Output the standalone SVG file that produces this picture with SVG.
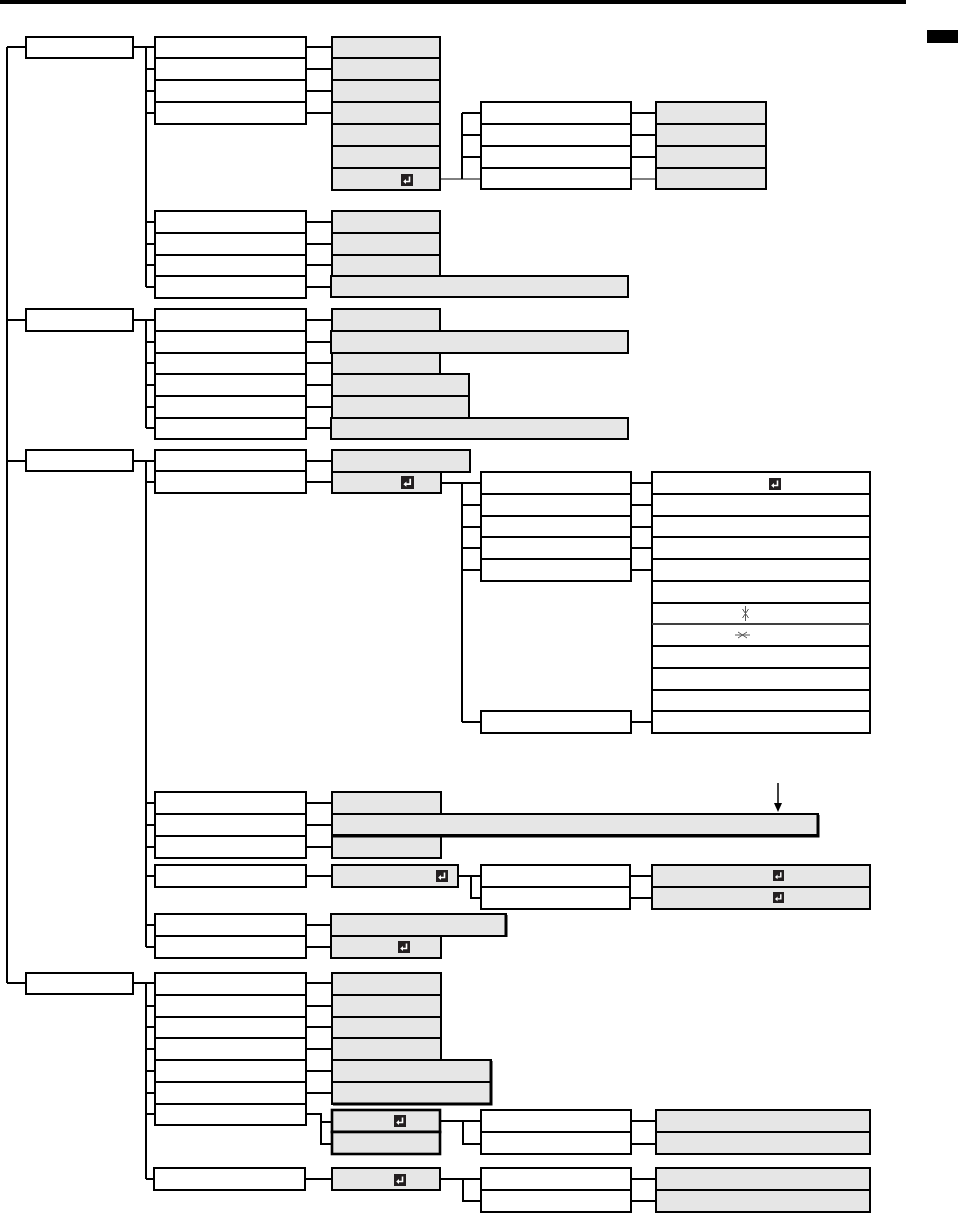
<svg xmlns="http://www.w3.org/2000/svg" xmlns:xlink="http://www.w3.org/1999/xlink" width="958" height="1214" viewBox="0 0 958 1214">
<style>
.b{fill:#fff;stroke:#000;stroke-width:2}
.g{fill:#e6e6e6;stroke:#000;stroke-width:2}
.gs{fill:#e6e6e6;stroke:#000;stroke-width:2.6}
.c{fill:none;stroke:#000;stroke-width:2}
.t{fill:none;stroke:#000;stroke-width:1}
.k{fill:none;stroke:#555;stroke-width:1}
</style>
<defs>
<symbol id="ent" viewBox="0 0 12 12">
<rect width="12" height="12" fill="#231f20"/>
<path d="M8.5,2.5 V7.5 H4.5" fill="none" stroke="#fff" stroke-width="1.6"/>
<path d="M5,5 L2.2,7.5 L5,10 z" fill="#fff"/>
</symbol>
</defs>
<rect x="0" y="0" width="906" height="4" fill="#000"/>
<rect x="927" y="30" width="31" height="13" fill="#000"/>

<g id="connectors">
<path class="c" d="M7,47 V983 M7,47 H26 M7,320 H26 M7,461 H26 M7,983 H26"/>
<path class="c" d="M133,47 H155 M146,47 V287 M146,69 H155 M146,91 H155 M146,113 H155 M146,222 H155 M146,244 H155 M146,265 H155 M146,287 H155"/>
<path class="c" d="M306,47 H332 M306,69 H332 M306,91 H332 M306,113 H332 M306,222 H332 M306,244 H332 M306,265 H332 M306,287 H332"/>
<path class="c" d="M462,113 V179 M462,113 H481 M462,135 H481 M462,157 H481 M631,113 H656 M631,135 H656 M631,157 H656"/>
<path class="t" d="M440,179 H481 M631,179 H656"/>
<path class="c" d="M133,320 H155 M146,320 V428 M146,342 H155 M146,363 H155 M146,385 H155 M146,407 H155 M146,428 H155"/>
<path class="c" d="M306,320 H332 M306,342 H332 M306,363 H332 M306,385 H332 M306,407 H332 M306,428 H332"/>
<path class="c" d="M133,461 H155 M146,461 V947 M146,482 H155 M146,803 H155 M146,825 H155 M146,847 H155 M146,876 H155 M146,925 H155 M146,947 H155"/>
<path class="c" d="M306,461 H332 M306,482 H332 M306,803 H332 M306,825 H332 M306,847 H332 M306,876 H332 M306,925 H332 M306,947 H332"/>
<path class="c" d="M441,483 H481 M462,483 V722 M462,505 H481 M462,527 H481 M462,548 H481 M462,570 H481 M462,722 H481"/>
<path class="c" d="M631,483 H652 M631,505 H652 M631,527 H652 M631,548 H652 M631,570 H652 M631,722 H652"/>
<path class="c" d="M458,876 H481 M471,876 V898 H481 M630,876 H652 M630,898 H652"/>
<path class="c" d="M133,983 H155 M146,983 V1179 M146,1006 H155 M146,1027 H155 M146,1049 H155 M146,1071 H155 M146,1093 H155 M146,1114 H155 M146,1179 H155"/>
<path class="c" d="M306,983 H332 M306,1006 H332 M306,1027 H332 M306,1049 H332 M306,1071 H332 M306,1093 H332"/>
<path class="c" d="M306,1114 H321 V1144 H332 M321,1122 H332"/>
<path class="c" d="M441,1121 H481 M463,1121 V1144 H481 M631,1121 H656 M631,1144 H656"/>
<path class="c" d="M306,1179 H332 M440,1179 H481 M463,1179 V1201 H481 M631,1179 H656 M631,1201 H656"/>
<path d="M778,783 V805" stroke="#000" stroke-width="1.5"/>
<path d="M774,803 L778,812 L782,803 z" fill="#000"/>
</g>

<g id="level1">
<rect class="b" x="26" y="37" width="107" height="21"/>
<rect class="b" x="26" y="309" width="107" height="22"/>
<rect class="b" x="26" y="450" width="107" height="21"/>
<rect class="b" x="26" y="973" width="107" height="21"/>
</g>

<g id="group1">
<rect class="b" x="155" y="37" width="151" height="21"/>
<rect class="b" x="155" y="58" width="151" height="22"/>
<rect class="b" x="155" y="80" width="151" height="22"/>
<rect class="b" x="155" y="102" width="151" height="22"/>
<rect class="g" x="332" y="37" width="108" height="21"/>
<rect class="g" x="332" y="58" width="108" height="22"/>
<rect class="g" x="332" y="80" width="108" height="22"/>
<rect class="g" x="332" y="102" width="108" height="22"/>
<rect class="g" x="332" y="124" width="108" height="22"/>
<rect class="g" x="332" y="146" width="108" height="22"/>
<rect class="g" x="332" y="168" width="108" height="22"/>
<use xlink:href="#ent" href="#ent" x="401" y="174" width="12" height="12"/>
<rect class="b" x="481" y="102" width="150" height="22"/>
<rect class="b" x="481" y="124" width="150" height="22"/>
<rect class="b" x="481" y="146" width="150" height="22"/>
<rect class="b" x="481" y="168" width="150" height="21"/>
<rect class="g" x="656" y="102" width="110" height="22"/>
<rect class="g" x="656" y="124" width="110" height="22"/>
<rect class="g" x="656" y="146" width="110" height="22"/>
<rect class="g" x="656" y="168" width="110" height="21"/>
<rect class="b" x="155" y="211" width="151" height="22"/>
<rect class="b" x="155" y="233" width="151" height="22"/>
<rect class="b" x="155" y="255" width="151" height="21"/>
<rect class="b" x="155" y="276" width="151" height="22"/>
<rect class="g" x="332" y="211" width="108" height="22"/>
<rect class="g" x="332" y="233" width="108" height="22"/>
<rect class="g" x="332" y="255" width="108" height="21"/>
<rect class="g" x="331" y="276" width="297" height="21"/>
</g>

<g id="group2">
<rect class="b" x="155" y="309" width="151" height="22"/>
<rect class="b" x="155" y="331" width="151" height="22"/>
<rect class="b" x="155" y="353" width="151" height="21"/>
<rect class="b" x="155" y="374" width="151" height="22"/>
<rect class="b" x="155" y="396" width="151" height="22"/>
<rect class="b" x="155" y="418" width="151" height="21"/>
<rect class="g" x="332" y="309" width="108" height="22"/>
<rect class="g" x="332" y="353" width="108" height="21"/>
<rect class="g" x="332" y="374" width="137" height="22"/>
<rect class="g" x="332" y="396" width="137" height="22"/>
<rect class="g" x="331" y="331" width="297" height="22"/>
<rect class="g" x="331" y="418" width="297" height="21"/>
</g>

<g id="group3">
<rect class="b" x="155" y="450" width="151" height="21"/>
<rect class="b" x="155" y="471" width="151" height="22"/>
<rect class="g" x="332" y="450" width="138" height="22"/>
<rect class="g" x="332" y="472" width="109" height="21"/>
<use xlink:href="#ent" href="#ent" x="401" y="476" width="13" height="13"/>
<rect class="b" x="481" y="472" width="150" height="22"/>
<rect class="b" x="481" y="494" width="150" height="22"/>
<rect class="b" x="481" y="516" width="150" height="21"/>
<rect class="b" x="481" y="537" width="150" height="22"/>
<rect class="b" x="481" y="559" width="150" height="22"/>
<rect class="b" x="481" y="711" width="150" height="22"/>
<rect class="b" x="652" y="472" width="218" height="22"/>
<rect class="b" x="652" y="494" width="218" height="22"/>
<rect class="b" x="652" y="516" width="218" height="21"/>
<rect class="b" x="652" y="537" width="218" height="22"/>
<rect class="b" x="652" y="559" width="218" height="22"/>
<rect class="b" x="652" y="581" width="218" height="22"/>
<rect class="b" x="652" y="603" width="218" height="21"/>
<rect class="b" x="652" y="624" width="218" height="22"/>
<rect class="b" x="652" y="646" width="218" height="22"/>
<rect class="b" x="652" y="668" width="218" height="22"/>
<rect class="b" x="652" y="690" width="218" height="21"/>
<rect class="b" x="652" y="711" width="218" height="22"/>
<path d="M652,624 H870" stroke="#fff" stroke-width="1"/>
<path d="M652,624 H870" stroke="#000" stroke-width="1"/>
<use xlink:href="#ent" href="#ent" x="769" y="478" width="12" height="12"/>
<path class="k" d="M745.5,606 V621 M742.5,609 L745.5,613.5 L748.5,609 M742.5,618 L745.5,613.5 L748.5,618"/>
<path class="k" d="M735,635 H750 M738,632 L742.5,635 L738,638 M747,632 L742.5,635 L747,638"/>
<rect class="b" x="155" y="792" width="151" height="22"/>
<rect class="b" x="155" y="814" width="151" height="22"/>
<rect class="b" x="155" y="836" width="151" height="22"/>
<rect class="g" x="332" y="792" width="109" height="22"/>
<rect class="g" x="332" y="836" width="109" height="22"/>
<rect class="g" x="332" y="814" width="486" height="21"/>
<path d="M818,815 V836 H333" fill="none" stroke="#000" stroke-width="3"/>
<rect class="b" x="155" y="865" width="151" height="22"/>
<rect class="g" x="332" y="865" width="126" height="22"/>
<use xlink:href="#ent" href="#ent" x="436" y="870" width="12" height="12"/>
<rect class="b" x="481" y="865" width="149" height="22"/>
<rect class="b" x="481" y="887" width="149" height="22"/>
<rect class="g" x="652" y="865" width="218" height="22"/>
<rect class="g" x="652" y="887" width="218" height="22"/>
<use xlink:href="#ent" href="#ent" x="773" y="870" width="11" height="11"/>
<use xlink:href="#ent" href="#ent" x="773" y="892" width="11" height="11"/>
<rect class="b" x="155" y="914" width="151" height="22"/>
<rect class="b" x="155" y="936" width="151" height="22"/>
<rect class="g" x="331" y="936" width="110" height="22"/>
<rect class="g" x="331" y="914" width="175" height="22"/>
<path d="M506,915 V937" fill="none" stroke="#000" stroke-width="3"/>
<use xlink:href="#ent" href="#ent" x="398" y="941" width="12" height="12"/>
</g>

<g id="group4">
<rect class="b" x="155" y="973" width="151" height="22"/>
<rect class="b" x="155" y="995" width="151" height="22"/>
<rect class="b" x="155" y="1017" width="151" height="21"/>
<rect class="b" x="155" y="1038" width="151" height="22"/>
<rect class="b" x="155" y="1060" width="151" height="22"/>
<rect class="b" x="155" y="1082" width="151" height="22"/>
<rect class="b" x="155" y="1104" width="151" height="21"/>
<rect class="g" x="332" y="973" width="109" height="22"/>
<rect class="g" x="332" y="995" width="109" height="22"/>
<rect class="g" x="332" y="1017" width="109" height="21"/>
<rect class="g" x="332" y="1038" width="109" height="22"/>
<rect class="g" x="332" y="1060" width="159" height="22"/>
<rect class="g" x="332" y="1082" width="159" height="22"/>
<path d="M491,1061 V1104 H333" fill="none" stroke="#000" stroke-width="3"/>
<rect class="gs" x="332" y="1110" width="108" height="22"/>
<rect class="gs" x="332" y="1132" width="108" height="22"/>
<use xlink:href="#ent" href="#ent" x="394" y="1115" width="12" height="12"/>
<rect class="b" x="481" y="1110" width="150" height="22"/>
<rect class="b" x="481" y="1132" width="150" height="22"/>
<rect class="g" x="656" y="1110" width="214" height="22"/>
<rect class="g" x="656" y="1132" width="214" height="22"/>
<rect class="b" x="154" y="1168" width="151" height="22"/>
<rect class="g" x="332" y="1168" width="108" height="22"/>
<use xlink:href="#ent" href="#ent" x="394" y="1174" width="12" height="12"/>
<rect class="b" x="481" y="1168" width="150" height="22"/>
<rect class="b" x="481" y="1190" width="150" height="22"/>
<rect class="g" x="656" y="1168" width="214" height="22"/>
<rect class="g" x="656" y="1190" width="214" height="22"/>
</g>
</svg>
